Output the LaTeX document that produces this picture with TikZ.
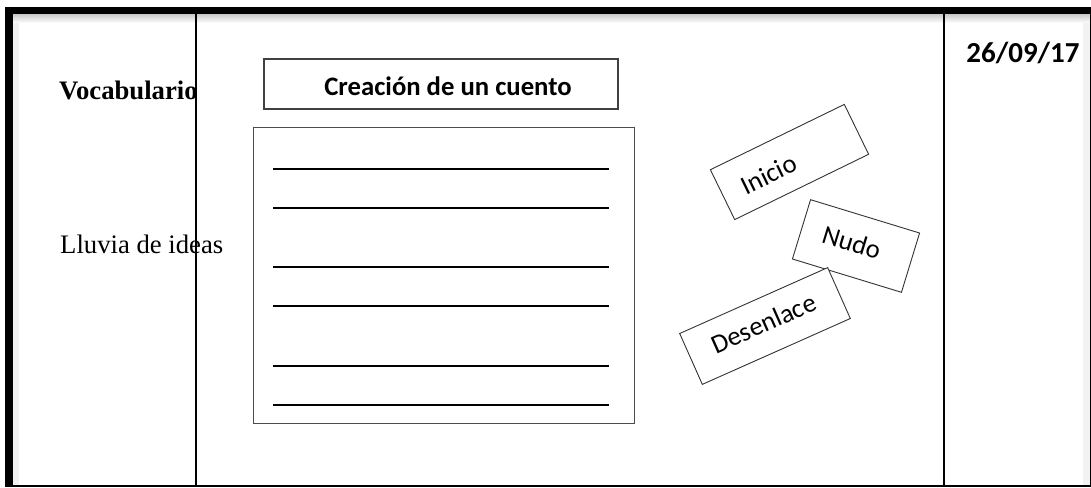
\documentclass[tikz,border=0pt]{standalone}
\usepackage{fontspec}
\setmainfont{Liberation Serif}
\newfontfamily\calib{Carlito}
\begin{document}
\begin{tikzpicture}[x=1pt,y=-1pt,
  rulebox/.style={draw=black!70, line width=1pt, inner sep=0pt},
  ruleline/.style={line width=1.4pt, draw=black},
  tagbox/.style={draw=black!80, line width=0.9pt, fill=white, inner sep=0pt},
  tagtext/.style={font=\calib\fontsize{26.7}{30}\selectfont, inner sep=0pt},
  divider/.style={line width=2.2pt, draw=black}]
\useasboundingbox (0,0) rectangle (1091,487);
% soft shading inside the frame
\shade[top color=black!22, bottom color=white] (13,14) rectangle (1090,23);
\fill[black!6] (13,23) rectangle (19,486);
\fill[black!5] (1083,23) rectangle (1089.5,486);
% left column texts
\begin{scope}
  \clip (13,14) rectangle (195,486);
  \node[anchor=base west, inner sep=0pt, font=\bfseries\fontsize{26.7}{30}\selectfont] (voc) at (59,99) {Vocabulario};
\end{scope}
\node[anchor=base west, inner sep=0pt, font=\fontsize{26.7}{30}\selectfont] (lluvia) at (60,253) {Lluvia de ideas};
% outer frame
\fill[black] (5,7) rectangle (1091,14);
\fill[black] (5,7) rectangle (13,487);
\draw[line width=1.2pt] (1090.4,14) -- (1090.4,487);
\draw[line width=1.5pt] (5,486.2) -- (1091,486.2);
% column dividers
\coordinate (d1t) at (196,14); \coordinate (d1b) at (196,486);
\coordinate (d2t) at (944,14); \coordinate (d2b) at (944,486);
\draw[divider] (d1t) -- (d1b);
\draw[divider] (d2t) -- (d2b);
% date
\node[anchor=base, inner sep=0pt, font=\calib\bfseries\fontsize{29}{32}\selectfont] (date) at (1023,63) {26/09/17};
% title box
\node[draw=black!75, line width=1.3pt, minimum width=354pt, minimum height=50pt, inner sep=0pt] (title) at (441,84) {};
\node[anchor=base, inner sep=0pt, font=\calib\bfseries\fontsize{26.7}{30}\selectfont] (titleT) at (448,95) {Creación de un cuento};
% lined writing box
\node[rulebox, minimum width=381pt, minimum height=296pt] (lines) at (443.5,275) {};
\foreach \yy/\nm in {169/a,208/b,267/c,306/d,366/e,405/f}{
  \coordinate (l\nm1) at (273,\yy);
  \coordinate (l\nm2) at (609,\yy);
  \draw[ruleline] (l\nm1) -- (l\nm2);
}
% rotated tags
\begin{scope}[shift={(789.5,162)}, rotate=26, transform shape]
  \node[tagbox, minimum width=149pt, minimum height=55.5pt] (ini) at (0,0) {};
  \node[tagtext] (iniT) at (-24,2) {Inicio};
\end{scope}
\begin{scope}[shift={(856,246)}, rotate=-17, transform shape]
  \node[tagbox, minimum width=114pt, minimum height=62pt] (nudo) at (0,0) {};
  \node[tagtext] (nudoT) at (-5,-2) {Nudo};
\end{scope}
\begin{scope}[shift={(765,326)}, rotate=24, transform shape]
  \node[tagbox, minimum width=162pt, minimum height=55.7pt] (des) at (0,0) {};
  \node[tagtext] (desT) at (0,-3) {Desenlace};
\end{scope}
\end{tikzpicture}
\end{document}
